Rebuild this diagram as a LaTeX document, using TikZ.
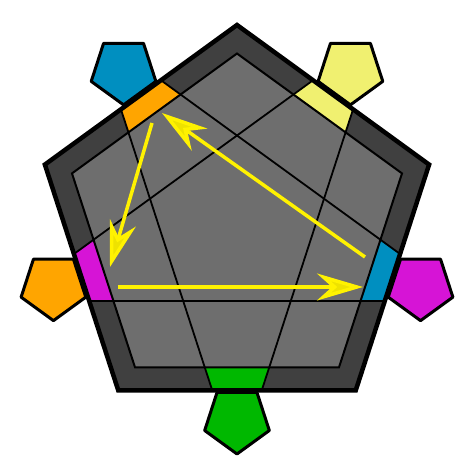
\documentclass[tikz,border=0pt]{standalone}
\usepackage{xcolor}
\usepackage{tikz}
\usetikzlibrary{calc,arrows.meta}

\definecolor{frame}{RGB}{64,64,64}
\definecolor{face}{RGB}{110,110,110}
\definecolor{cOrange}{RGB}{255,165,0}
\definecolor{cBlue}{RGB}{0,143,192}
\definecolor{cLemon}{RGB}{240,240,112}
\definecolor{cMagenta}{RGB}{214,20,214}
\definecolor{cGreen}{RGB}{0,184,0}

\begin{document}
\begin{tikzpicture}[x=1pt,y=1pt,
						outer/.style={draw=black, line width=4.5pt, line join=miter},
						inner/.style={draw=black, line width=2pt},
						chord/.style={draw=black, line width=1.8pt},
						tabpent/.style={draw=black, line width=3pt, line join=round},
						move/.style={draw=yellow, line width=3.5pt, -{Stealth[length=46pt, width=27pt, inset=15pt, fill=yellow!85!olive]}}
						]
						\useasboundingbox (-237,-247) rectangle (237,227);
						
						% small pentagons outside the frame
						\foreach \n/\col in {270/cGreen, 342/cMagenta, 54/cLemon, 126/cBlue, 198/cOrange}{
							\begin{scope}[shift={(\n:193)}]
								\filldraw[tabpent, fill=\col] (-90:34) -- (-18:34) -- (54:34) -- (126:34) -- (198:34) -- cycle;
							\end{scope}
						}
						
						\fill[frame] (90:202) -- (162:202) -- (234:202) -- (306:202) -- (18:202) -- cycle;
						\fill[face] (90:173.5) -- (162:173.5) -- (234:173.5) -- (306:173.5) -- (18:173.5) -- cycle;
						
						% cells in the frame
						\foreach \n/\col in {270/cGreen, 342/cBlue, 54/cLemon, 126/cOrange, 198/cMagenta}{
							\fill[\col] ($(\n:155.4)+(\n-72:26)$) -- ($(\n:155.4)+(\n+72:26)$)
								-- ($(\n:129.9)+(\n+72:33.8)$) -- ($(\n:129.9)+(\n-72:33.8)$) -- cycle;
						}
						
						\foreach \n in {270,342,54,126,198}
							\draw[chord] ($(\n:26)+(\n+72:155.4)$) -- ($(\n:26)+(\n-72:155.4)$);
						
						\draw[inner] (90:173.5) -- (162:173.5) -- (234:173.5) -- (306:173.5) -- (18:173.5) -- cycle;
						\draw[outer] (90:202) -- (162:202) -- (234:202) -- (306:202) -- (18:202) -- cycle;
						
						\coordinate (ob) at (-85,104);
						\coordinate (mt) at (-127,-40);
						\coordinate (ms) at (-119,-60);
						\coordinate (bt) at (126,-60);
						\coordinate (bs) at (128,-30);
						\coordinate (ot) at (-75,114);
						
						\draw[move] (ob) -- (mt);
						\draw[move] (ms) -- (bt);
						\draw[move] (bs) -- (ot);
					\end{tikzpicture}
\end{document}
